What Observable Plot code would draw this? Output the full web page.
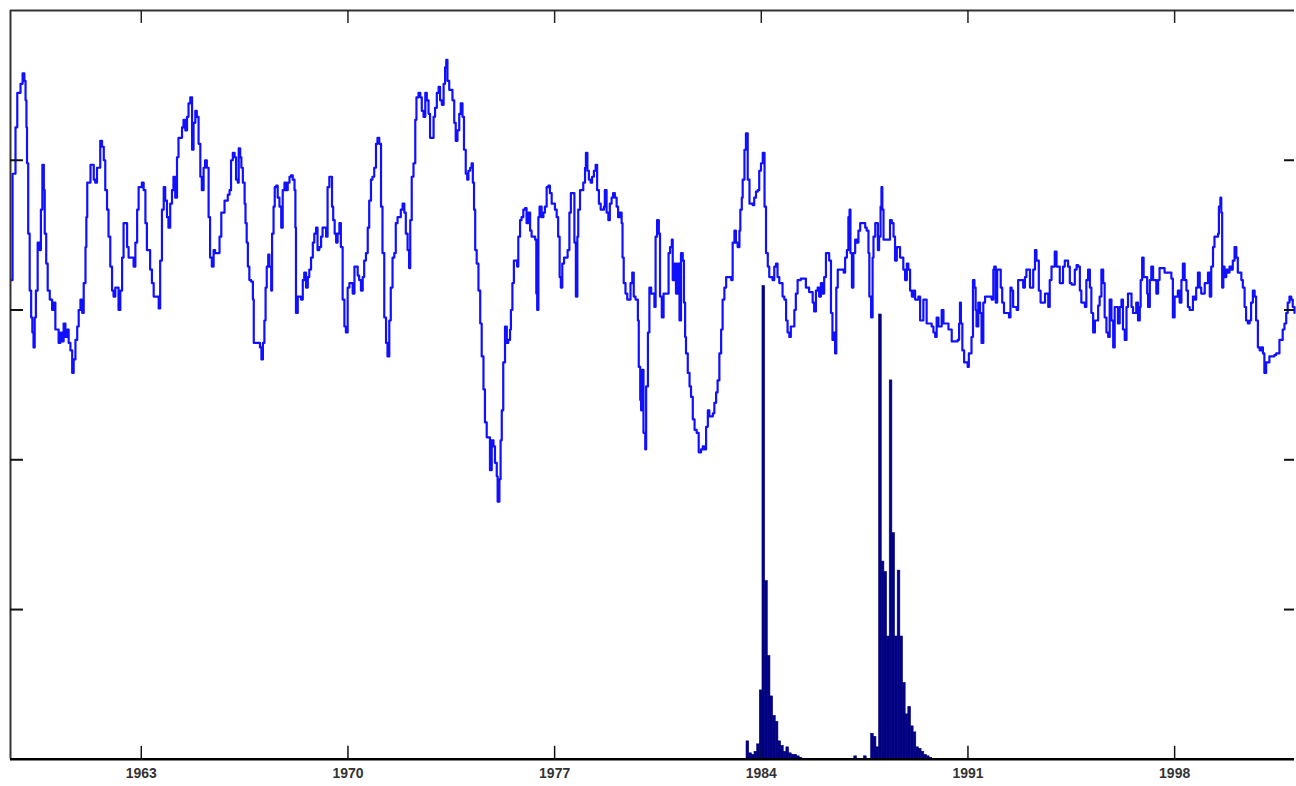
<!DOCTYPE html>
<html><head><meta charset="utf-8">
<script src="https://cdn.jsdelivr.net/npm/d3@7"></script>
<script src="https://cdn.jsdelivr.net/npm/@observablehq/plot@0.6"></script>
<style>html,body{margin:0;padding:0;background:#fff;overflow:hidden}</style>
</head><body><div id="chart"></div>
<script>
const xTicks = [1963, 1970, 1977, 1984, 1991, 1998];
const yTicks = [1, 2, 3, 4];
const xDomain = [1958.57, 2002.06];
const yDomain = [0, 5];

// weekly-style series: [year, value]
const lineSeries = [
[1958.60,3.2],[1958.64,3.91],[1958.74,4.22],[1958.80,4.45],[1958.91,4.51],[1958.98,4.58],[1959.04,4.53],[1959.08,4.4],[1959.11,4.22],[1959.13,3.98],[1959.17,3.51],[1959.22,3.13],[1959.27,2.95],[1959.31,2.85],[1959.35,2.75],[1959.39,2.95],[1959.43,3.13],[1959.49,3.45],[1959.56,3.4],[1959.60,3.67],[1959.65,3.97],[1959.70,3.8],[1959.73,3.51],[1959.78,3.31],[1959.83,3.13],[1959.90,3.07],[1959.98,3.0],[1960.03,3.05],[1960.09,2.87],[1960.20,2.78],[1960.26,2.85],[1960.32,2.79],[1960.37,2.91],[1960.43,2.82],[1960.49,2.87],[1960.54,2.78],[1960.60,2.73],[1960.66,2.58],[1960.71,2.67],[1960.77,2.8],[1960.83,2.89],[1960.88,3.0],[1960.94,3.07],[1961.00,2.98],[1961.05,3.18],[1961.11,3.42],[1961.14,3.62],[1961.17,3.85],[1961.28,3.97],[1961.39,3.87],[1961.44,3.85],[1961.50,3.95],[1961.61,4.13],[1961.67,4.09],[1961.73,4.0],[1961.78,3.8],[1961.84,3.67],[1961.89,3.49],[1961.95,3.29],[1962.01,3.13],[1962.06,3.09],[1962.12,3.15],[1962.23,3.0],[1962.29,3.13],[1962.35,3.35],[1962.40,3.58],[1962.46,3.58],[1962.52,3.42],[1962.57,3.35],[1962.69,3.35],[1962.74,3.29],[1962.80,3.45],[1962.86,3.67],[1962.91,3.82],[1963.02,3.85],[1963.08,3.8],[1963.14,3.58],[1963.19,3.4],[1963.30,3.27],[1963.36,3.18],[1963.42,3.09],[1963.53,3.09],[1963.59,3.01],[1963.64,3.33],[1963.70,3.67],[1963.76,3.82],[1963.81,3.73],[1963.87,3.62],[1963.92,3.55],[1963.98,3.71],[1964.04,3.8],[1964.09,3.89],[1964.15,3.75],[1964.21,4.02],[1964.26,4.15],[1964.32,4.15],[1964.38,4.22],[1964.43,4.27],[1964.49,4.2],[1964.55,4.29],[1964.60,4.38],[1964.66,4.42],[1964.72,4.07],[1964.77,4.25],[1964.83,4.33],[1964.88,4.29],[1964.94,4.11],[1965.00,3.89],[1965.05,3.8],[1965.11,3.95],[1965.16,4.0],[1965.22,3.95],[1965.28,3.62],[1965.33,3.35],[1965.39,3.29],[1965.45,3.4],[1965.50,3.38],
[1965.54,3.38],[1965.65,3.49],[1965.71,3.65],[1965.82,3.73],[1965.93,3.77],[1965.99,3.8],[1966.04,4.0],[1966.10,4.05],[1966.16,4.02],[1966.21,3.87],[1966.27,3.85],[1966.30,4.08],[1966.35,4.02],[1966.39,3.95],[1966.44,3.85],[1966.50,3.71],[1966.53,3.58],[1966.57,3.45],[1966.61,3.29],[1966.66,3.2],[1966.72,3.19],[1966.78,3.07],[1966.81,2.78],[1966.97,2.78],[1967.02,2.75],[1967.07,2.67],[1967.12,2.78],[1967.17,2.93],[1967.21,3.15],[1967.25,3.29],[1967.30,3.37],[1967.34,3.29],[1967.40,3.13],[1967.43,3.51],[1967.48,3.69],[1967.52,3.82],[1967.57,3.83],[1967.62,3.75],[1967.68,3.69],[1967.74,3.55],[1967.79,3.8],[1967.85,3.85],[1967.90,3.8],[1967.96,3.85],[1968.02,3.89],[1968.07,3.9],[1968.13,3.87],[1968.19,3.8],[1968.22,3.55],[1968.24,2.98],[1968.30,3.09],[1968.41,3.07],[1968.47,3.2],[1968.52,3.25],[1968.58,3.15],[1968.64,3.22],[1968.69,3.27],[1968.75,3.35],[1968.81,3.45],[1968.86,3.51],[1968.92,3.55],[1968.97,3.4],[1969.03,3.42],[1969.09,3.49],[1969.14,3.55],[1969.20,3.55],[1969.26,3.49],[1969.31,3.82],[1969.37,3.89],[1969.43,3.89],[1969.46,3.69],[1969.50,3.6],[1969.55,3.51],[1969.60,3.45],[1969.65,3.51],[1969.71,3.58],[1969.76,3.42],[1969.82,3.07],[1969.88,2.89],[1969.93,2.85],[1969.99,3.15],[1970.05,3.18],[1970.16,3.11],[1970.22,3.29],[1970.33,3.23],[1970.38,3.2],[1970.44,3.13],[1970.50,3.22],[1970.55,3.33],[1970.61,3.38],[1970.67,3.55],[1970.72,3.73],[1970.78,3.87],[1970.83,3.89],[1970.89,3.95],[1970.95,4.11],[1971.00,4.15],[1971.06,4.11],[1971.12,3.69],[1971.17,3.38],[1971.23,2.95],[1971.29,2.78],[1971.34,2.69],[1971.40,2.93],[1971.45,3.15],[1971.51,3.35],[1971.57,3.38],[1971.62,3.58],[1971.68,3.62],[1971.74,3.62],[1971.79,3.67],[1971.85,3.71],[1971.91,3.65],[1971.96,3.51],[1972.02,3.4],[1972.07,3.28],[1972.11,3.6],[1972.16,3.89],[1972.22,3.98],[1972.28,4.27],[1972.32,4.42],[1972.39,4.45],[1972.45,4.42],[1972.50,4.33],[1972.56,4.29],[1972.62,4.45],[1972.67,4.4],[1972.73,4.31],[1972.78,4.15],
[1972.84,4.15],[1972.90,4.29],[1972.95,4.35],[1973.01,4.45],[1973.07,4.49],[1973.12,4.4],[1973.18,4.37],[1973.24,4.51],[1973.29,4.62],[1973.33,4.67],[1973.37,4.53],[1973.43,4.47],[1973.48,4.47],[1973.54,4.4],[1973.60,4.25],[1973.65,4.13],[1973.71,4.2],[1973.77,4.31],[1973.82,4.38],[1973.88,4.29],[1973.93,4.07],[1973.99,3.91],[1974.04,3.87],[1974.08,3.93],[1974.14,3.95],[1974.19,3.98],[1974.23,3.85],[1974.27,3.67],[1974.31,3.4],[1974.36,3.31],[1974.42,3.13],[1974.48,2.91],[1974.53,2.69],[1974.59,2.47],[1974.64,2.25],[1974.70,2.15],[1974.76,2.15],[1974.81,1.93],[1974.87,2.13],[1974.93,2.09],[1974.98,1.98],[1975.04,1.89],[1975.07,1.72],[1975.13,1.87],[1975.17,2.13],[1975.21,2.33],[1975.26,2.65],[1975.32,2.89],[1975.38,2.78],[1975.43,2.8],[1975.49,2.87],[1975.52,3.0],[1975.57,3.18],[1975.62,3.33],[1975.68,3.33],[1975.73,3.29],[1975.77,3.49],[1975.83,3.6],[1975.88,3.62],[1975.94,3.67],[1976.00,3.68],[1976.05,3.58],[1976.11,3.65],[1976.17,3.53],[1976.22,3.49],[1976.34,3.47],[1976.38,3.11],[1976.41,3.0],[1976.45,3.62],[1976.49,3.69],[1976.56,3.62],[1976.62,3.65],[1976.67,3.69],[1976.73,3.82],[1976.79,3.83],[1976.84,3.78],[1976.90,3.71],[1977.01,3.67],[1977.07,3.62],[1977.12,3.49],[1977.17,3.22],[1977.21,3.15],[1977.26,3.31],[1977.32,3.35],[1977.44,3.4],[1977.50,3.65],[1977.55,3.78],[1977.61,3.78],[1977.67,3.45],[1977.72,3.09],[1977.77,3.49],[1977.80,3.67],[1977.86,3.8],[1977.91,3.8],[1977.97,3.85],[1978.03,3.95],[1978.06,4.05],[1978.11,3.93],[1978.16,3.87],[1978.22,3.85],[1978.27,3.89],[1978.33,3.93],[1978.39,3.97],[1978.44,3.8],[1978.50,3.71],[1978.56,3.67],[1978.67,3.69],[1978.70,3.8],[1978.76,3.65],[1978.82,3.6],[1978.87,3.71],[1978.93,3.75],[1978.98,3.78],[1979.04,3.75],[1979.10,3.69],[1979.15,3.62],[1979.21,3.65],[1979.27,3.58],[1979.30,3.35],[1979.34,3.18],[1979.40,3.11],[1979.46,3.07],[1979.57,3.18],[1979.63,3.25],[1979.68,3.09],[1979.74,3.07],
[1979.82,2.93],[1979.85,2.62],[1979.90,2.4],[1979.93,2.33],[1979.97,2.6],[1980.01,2.18],[1980.07,2.07],[1980.10,2.49],[1980.16,2.85],[1980.21,3.15],[1980.27,3.11],[1980.38,3.02],[1980.42,3.49],[1980.47,3.6],[1980.53,3.51],[1980.57,3.09],[1980.63,2.95],[1980.69,3.11],[1980.80,3.11],[1980.86,3.38],[1980.91,3.42],[1980.97,3.47],[1981.00,3.2],[1981.06,3.31],[1981.11,3.11],[1981.17,3.31],[1981.23,2.93],[1981.28,3.38],[1981.34,3.33],[1981.38,3.05],[1981.42,2.82],[1981.45,2.71],[1981.51,2.58],[1981.57,2.49],[1981.62,2.42],[1981.68,2.27],[1981.74,2.2],[1981.81,2.18],[1981.88,2.05],[1981.96,2.07],[1982.02,2.09],[1982.07,2.07],[1982.13,2.22],[1982.19,2.33],[1982.24,2.29],[1982.36,2.31],[1982.41,2.38],[1982.47,2.45],[1982.52,2.53],[1982.58,2.71],[1982.64,2.87],[1982.69,3.07],[1982.75,3.15],[1982.81,3.22],[1982.98,3.2],[1983.03,3.45],[1983.09,3.53],[1983.14,3.45],[1983.20,3.42],[1983.26,3.53],[1983.29,3.67],[1983.34,3.75],[1983.37,3.87],[1983.43,4.07],[1983.48,4.18],[1983.54,3.87],[1983.60,3.71],[1983.71,3.7],[1983.76,3.75],[1983.82,3.79],[1983.88,3.8],[1983.93,3.93],[1983.99,3.98],[1984.05,4.05],[1984.08,4.05],[1984.11,3.69],[1984.16,3.38],[1984.22,3.29],[1984.27,3.22],[1984.38,3.2],[1984.44,3.29],[1984.50,3.31],[1984.55,3.22],[1984.61,3.18],[1984.72,3.09],[1984.78,3.07],[1984.84,2.93],[1984.89,2.85],[1984.95,2.82],[1985.00,2.89],[1985.12,3.0],[1985.17,3.11],[1985.23,3.2],[1985.34,3.21],[1985.51,3.15],[1985.62,3.12],[1985.74,3.05],[1985.79,2.99],[1985.85,3.13],[1985.91,3.15],[1985.96,3.09],[1986.02,3.18],[1986.07,3.11],[1986.13,3.22],[1986.19,3.38],[1986.24,3.38],[1986.30,3.33],[1986.36,2.98],[1986.41,2.8],[1986.47,2.85],
[1986.50,2.71],[1986.54,3.15],[1986.59,3.27],[1986.73,3.27],[1986.79,3.25],[1986.84,3.35],[1986.90,3.4],[1986.95,3.62],[1986.99,3.67],[1987.02,3.38],[1987.07,3.15],[1987.12,3.38],[1987.18,3.47],[1987.24,3.45],[1987.29,3.53],[1987.35,3.58],[1987.46,3.58],[1987.52,3.55],[1987.57,3.53],[1987.63,3.38],[1987.66,3.09],[1987.72,2.95],[1987.77,3.35],[1987.80,3.49],[1987.86,3.58],[1987.91,3.58],[1987.95,3.4],[1987.99,3.49],[1988.04,3.69],[1988.07,3.82],[1988.10,3.67],[1988.14,3.47],[1988.31,3.47],[1988.36,3.6],[1988.42,3.58],[1988.48,3.49],[1988.53,3.33],[1988.59,3.42],[1988.70,3.35],[1988.81,3.27],[1988.87,3.2],[1988.93,3.31],[1988.98,3.27],[1989.04,3.13],[1989.10,3.09],[1989.15,3.13],[1989.21,3.07],[1989.32,3.09],[1989.38,2.93],[1989.49,3.07],[1989.60,2.91],[1989.77,2.89],[1989.83,2.85],[1989.89,2.82],[1989.94,2.95],[1990.00,2.89],[1990.11,3.0],[1990.17,2.91],[1990.34,2.87],[1990.45,2.79],[1990.65,2.8],[1990.70,2.91],[1990.73,3.05],[1990.76,2.91],[1990.81,2.73],[1990.87,2.65],[1990.99,2.62],[1991.03,2.71],[1991.12,2.82],[1991.17,3.2],[1991.22,3.15],[1991.26,3.0],[1991.29,2.89],[1991.35,3.05],[1991.41,2.98],[1991.46,2.78],[1991.52,3.05],[1991.58,3.09],[1991.75,3.09],[1991.80,3.07],[1991.86,3.27],[1991.89,3.29],[1991.94,3.05],[1991.99,3.27],[1992.05,3.27],[1992.11,3.15],[1992.16,3.05],[1992.22,2.98],[1992.39,2.95],[1992.44,3.15],[1992.48,3.13],[1992.53,3.02],[1992.65,3.0],[1992.70,3.2],[1992.87,3.15],[1992.93,3.22],[1992.98,3.27],[1993.10,3.15],[1993.21,3.27],[1993.27,3.4],[1993.32,3.33],[1993.40,3.13],[1993.46,3.05],[1993.61,3.11],[1993.72,3.02],[1993.77,3.2],[1993.83,3.29],[1993.94,3.39],[1994.00,3.29],[1994.11,3.18],[1994.22,3.29],
[1994.28,3.33],[1994.39,3.29],[1994.45,3.18],[1994.51,3.17],[1994.62,3.27],[1994.68,3.3],[1994.73,3.29],[1994.79,3.13],[1994.84,3.05],[1994.96,3.02],[1995.01,3.2],[1995.07,3.27],[1995.13,3.15],[1995.18,2.98],[1995.24,2.85],[1995.30,2.93],[1995.41,3.03],[1995.46,3.09],[1995.52,3.27],[1995.58,3.18],[1995.63,2.95],[1995.69,2.85],[1995.75,2.82],[1995.80,3.07],[1995.86,2.93],[1995.92,2.75],[1995.97,3.02],[1996.08,2.91],[1996.14,3.02],[1996.20,3.07],[1996.25,2.87],[1996.31,2.8],[1996.37,3.02],[1996.42,3.11],[1996.54,3.02],[1996.59,2.98],[1996.70,3.05],[1996.76,2.93],[1996.82,3.02],[1996.85,3.2],[1996.90,3.35],[1996.95,3.22],[1997.01,3.22],[1997.07,3.11],[1997.10,3.02],[1997.16,3.2],[1997.21,3.29],[1997.27,3.2],[1997.38,3.11],[1997.44,3.2],[1997.49,3.28],[1997.66,3.25],[1997.89,3.21],[1997.94,2.95],[1998.00,3.09],[1998.11,3.13],[1998.17,3.05],[1998.23,3.2],[1998.28,3.31],[1998.34,3.2],[1998.40,3.13],[1998.45,3.02],[1998.51,3.0],[1998.62,3.09],[1998.68,3.07],[1998.73,3.15],[1998.79,3.25],[1998.85,3.15],[1998.90,3.11],[1999.02,3.18],[1999.13,3.25],[1999.19,3.09],[1999.24,3.29],[1999.30,3.42],[1999.35,3.49],[1999.47,3.51],[1999.50,3.69],[1999.55,3.75],[1999.58,3.65],[1999.61,3.15],[1999.65,3.29],[1999.69,3.22],[1999.75,3.27],[1999.80,3.25],[1999.86,3.29],[1999.92,3.27],[1999.97,3.33],[2000.03,3.42],[2000.09,3.35],[2000.14,3.25],[2000.26,3.2],[2000.31,3.15],[2000.37,3.02],[2000.42,2.93],[2000.48,2.91],[2000.54,2.93],[2000.59,3.05],[2000.65,3.13],[2000.71,3.09],[2000.76,2.93],[2000.82,2.75],[2000.88,2.73],[2000.93,2.75],[2000.99,2.71],[2001.04,2.58],[2001.10,2.65],[2001.21,2.69],[2001.38,2.7],[2001.44,2.71],[2001.55,2.8],[2001.66,2.87],[2001.72,2.91],[2001.78,2.98],[2001.83,3.05],[2001.89,3.09],[2001.95,3.07],[2002.00,3.02],[2002.06,2.98]
];

// histogram bins (start year) and heights
const barYears = [
1983.50,1983.59,1983.68,1983.77,1983.86,1983.95,1984.04,1984.13,1984.22,1984.31,1984.40,1984.49,1984.58,1984.67,1984.76,1984.85,1984.94,1985.03,1985.12,1985.21,1985.30,
1987.15,1987.48,
1987.72,1987.81,1987.90,1987.99,1988.08,1988.17,1988.26,1988.35,1988.44,1988.53,1988.62,1988.71,1988.80,1988.89,1988.98,1989.07,1989.16,1989.25,1989.34,1989.43,1989.52,1989.61,1989.70
];
const barValues = [
0.12,0.04,0.03,0.05,0.10,0.46,3.16,1.19,0.69,0.42,0.29,0.25,0.12,0.09,0.05,0.08,0.04,0.03,0.03,0.02,0.01,
0.02,0.02,
0.17,0.15,0.08,2.97,1.32,1.25,0.82,2.53,1.51,0.82,1.26,0.82,0.51,0.30,0.35,0.22,0.18,0.08,0.07,0.05,0.03,0.02,0.01
];
const barWidth = 0.09;

const bars = barYears.map((y, i) => ({x1: y, x2: y + barWidth, v: barValues[i]}));
const W = 1298, H = 786, ML = 10, MR = 2, MT = 10, MB = 26;
const plotW = W - ML - MR, plotH = H - MT - MB;

const chart = Plot.plot({
  width: W, height: H,
  marginTop: MT, marginBottom: MB, marginLeft: ML, marginRight: MR,
  style: {background: "#fff", fontFamily: "'Liberation Sans', Arial, sans-serif"},
  x: {domain: xDomain},
  y: {domain: yDomain, axis: null},
  marks: [
    Plot.rectY(bars, {x1: "x1", x2: "x2", y1: 0, y2: "v", fill: "#000080", stroke: "#000080", strokeWidth: 0.6}),
    Plot.line(lineSeries, {x: d => d[0], y: d => d[1], stroke: "#1010ff", strokeWidth: 2.2, curve: "step-after"}),
    Plot.ruleY([yDomain[1]], {stroke: "#333", strokeWidth: 2}),
    Plot.ruleX([xDomain[0]], {stroke: "#333", strokeWidth: 2}),
    Plot.ruleY([yDomain[0]], {stroke: "#000", strokeWidth: 2.5}),
    Plot.ruleX(xTicks, {x: d => d, insetTop: plotH - 13, stroke: "#111", strokeWidth: 1.5}),
    Plot.ruleX(xTicks, {x: d => d, insetBottom: plotH - 13, stroke: "#222", strokeWidth: 1.5}),
    Plot.ruleY(yTicks, {y: d => d, insetRight: plotW - 13, stroke: "#111", strokeWidth: 2}),
    Plot.ruleY(yTicks, {y: d => d, insetLeft: plotW - 10, stroke: "#111", strokeWidth: 2}),
    Plot.axisX(xTicks, {tickSize: 0, tickPadding: 9, tickFormat: d => String(d), fontSize: 14, fontWeight: "bold", fill: "#333"})
  ]
});
document.getElementById("chart").appendChild(chart);
</script>
</body></html>
